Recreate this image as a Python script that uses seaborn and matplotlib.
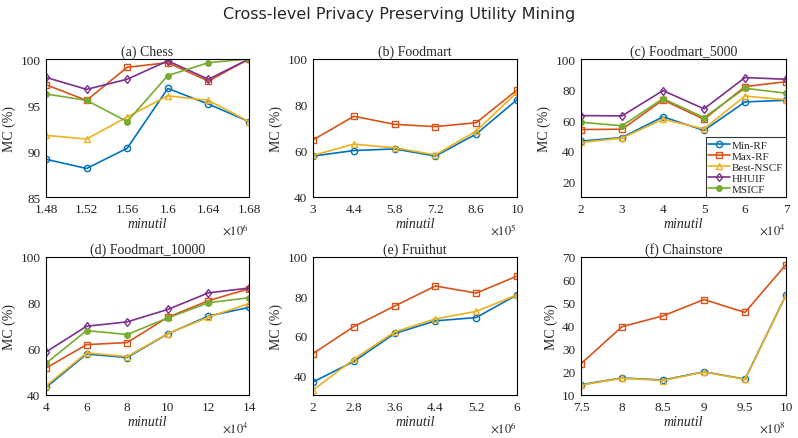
import matplotlib
matplotlib.use('Agg')
import matplotlib.pyplot as plt
import seaborn as sns
import pandas as pd

sns.set_theme(style='white')
plt.rcParams['font.family'] = ['Liberation Serif', 'DejaVu Serif']
plt.rcParams['mathtext.fontset'] = 'stix'

methods = ['Min-RF', 'Max-RF', 'Best-NSCF', 'HHUIF', 'MSICF']
colors = {'Min-RF': '#0072BD', 'Max-RF': '#D95319', 'Best-NSCF': '#EDB120',
          'HHUIF': '#7E2F8E', 'MSICF': '#77AC30'}
markers = {'Min-RF': 'o', 'Max-RF': 's', 'Best-NSCF': '^', 'HHUIF': 'd', 'MSICF': '.'}

# (a) Chess, minutil x1e6
chess_x = [1.48, 1.52, 1.56, 1.6, 1.64, 1.68]
chess = {
    'Min-RF': [89.1, 88.1, 90.3, 96.8, 95.1, 93.2],
    'Max-RF': [97.2, 95.5, 99.1, 99.6, 97.6, 100],
    'Best-NSCF': [91.7, 91.3, 93.7, 96.0, 95.5, 93.2],
    'HHUIF': [98.0, 96.7, 97.8, 99.8, 97.8, 100],
    'MSICF': [96.2, 95.5, 93.2, 98.2, 99.6, 100],
}
# (b) Foodmart, minutil x1e5
foodmart_x = [3, 4.4, 5.8, 7.2, 8.6, 10]
foodmart = {
    'Min-RF': [57.8, 60.2, 60.9, 57.8, 67.4, 82.3],
    'Max-RF': [64.8, 75.1, 71.6, 70.6, 72.3, 86.5],
    'Best-NSCF': [58.1, 63.0, 61.4, 58.3, 68.7, 85.5],
}
# (c) Foodmart_5000, minutil x1e4
fm5000_x = [2, 3, 4, 5, 6, 7]
fm5000 = {
    'Min-RF': [46.4, 48.8, 62.3, 53.4, 72.0, 73.1],
    'Max-RF': [54.0, 54.2, 73.3, 60.7, 82.0, 85.2],
    'Best-NSCF': [45.6, 48.4, 60.7, 54.4, 75.9, 73.3],
    'HHUIF': [63.1, 62.9, 79.4, 67.5, 87.9, 86.8],
    'MSICF': [58.8, 56.4, 74.2, 61.8, 80.9, 77.7],
}
# (d) Foodmart_10000, minutil x1e4
fm10000_x = [4, 6, 8, 10, 12, 14]
fm10000 = {
    'Min-RF': [43.3, 57.8, 56.3, 66.6, 74.3, 78.1],
    'Max-RF': [51.7, 61.9, 62.8, 73.8, 81.0, 86.2],
    'Best-NSCF': [44.0, 58.3, 56.7, 66.7, 73.8, 79.8],
    'HHUIF': [58.7, 69.9, 71.8, 77.2, 84.4, 86.5],
    'MSICF': [53.8, 68.0, 66.3, 73.5, 80.1, 82.3],
}
# (e) Fruithut, minutil x1e6
fruithut_x = [2, 2.8, 3.6, 4.4, 5.2, 6]
fruithut = {
    'Min-RF': [36.6, 47.0, 61.2, 67.6, 69.3, 80.8],
    'Max-RF': [51.0, 64.7, 75.1, 85.3, 81.7, 90.3],
    'Best-NSCF': [32.5, 48.1, 62.0, 68.6, 72.4, 80.8],
}
# (f) Chainstore, minutil x1e8
chain_x = [7.5, 8, 8.5, 9, 9.5, 10]
chain = {
    'Min-RF': [14.5, 17.4, 16.5, 20.1, 16.9, 53.5],
    'Max-RF': [23.6, 39.7, 44.4, 51.5, 45.9, 66.7],
    'Best-NSCF': [14.3, 17.3, 16.3, 20.0, 16.8, 53.3],
}

panels = [
    ('(a) Chess', chess_x, chess, 6, (85, 100), [85, 90, 95, 100]),
    ('(b) Foodmart', foodmart_x, foodmart, 5, (40, 100), [40, 60, 80, 100]),
    ('(c) Foodmart_5000', fm5000_x, fm5000, 4, (10, 100), [20, 40, 60, 80, 100]),
    ('(d) Foodmart_10000', fm10000_x, fm10000, 4, (40, 100), [40, 60, 80, 100]),
    ('(e) Fruithut', fruithut_x, fruithut, 6, (30, 100), [40, 60, 80, 100]),
    ('(f) Chainstore', chain_x, chain, 8, (10, 70), [10, 20, 30, 40, 50, 60, 70]),
]

fig = plt.figure(figsize=(7.98, 4.39), dpi=100)
W, H = 798, 439
lefts = [46, 313, 581]
widths = [203, 204, 205]
bottoms = [198, 396]
ax_h = 138

for i, (title, xs, series, expo, ylim, yticks) in enumerate(panels):
    r, c = divmod(i, 3)
    ax = fig.add_axes([lefts[c] / W, (H - bottoms[r]) / H, widths[c] / W, ax_h / H])
    for m in methods:
        if m not in series:
            continue
        df = pd.DataFrame({'minutil': xs, 'MC': series[m]})
        mk = markers[m]
        sns.lineplot(data=df, x='minutil', y='MC', ax=ax, color=colors[m],
                     marker=mk, markersize=8 if mk == '.' else 4.5,
                     markerfacecolor=colors[m] if mk == '.' else 'none',
                     markeredgecolor=colors[m], markeredgewidth=1.0,
                     linewidth=1.2, label=m, legend=False)
    ax.set_xlim(xs[0], xs[-1])
    ax.set_ylim(*ylim)
    ax.set_xticks(xs)
    ax.set_xticklabels([f'{v:g}' for v in xs])
    ax.set_yticks(yticks)
    ax.tick_params(direction='out', length=2, width=0.6, labelsize=9.5,
                   colors='#262626', pad=2)
    for sp in ax.spines.values():
        sp.set_color('black')
        sp.set_linewidth(0.8)
    ax.set_title(title, fontsize=10, pad=3)
    ax.set_xlabel('minutil', fontstyle='italic', fontsize=10, labelpad=2)
    ax.set_ylabel('MC (%)', fontsize=10, labelpad=3)
    ax.text(1.0, -0.18, r'$\times10^{%d}$' % expo, transform=ax.transAxes,
            ha='right', va='top', fontsize=9, color='#262626')
    if i == 2:
        leg = ax.legend(loc='lower right', fontsize=8, frameon=True,
                        fancybox=False, borderaxespad=0, handlelength=1.9,
                        handletextpad=0.2, labelspacing=0.12, borderpad=0.25)
        leg.get_frame().set_edgecolor('black')
        leg.get_frame().set_linewidth(0.8)

fig.suptitle('Cross-level Privacy Preserving Utility Mining', y=0.985,
             fontsize=11.5, family='DejaVu Sans')
fig.savefig('out.png', dpi=100)
